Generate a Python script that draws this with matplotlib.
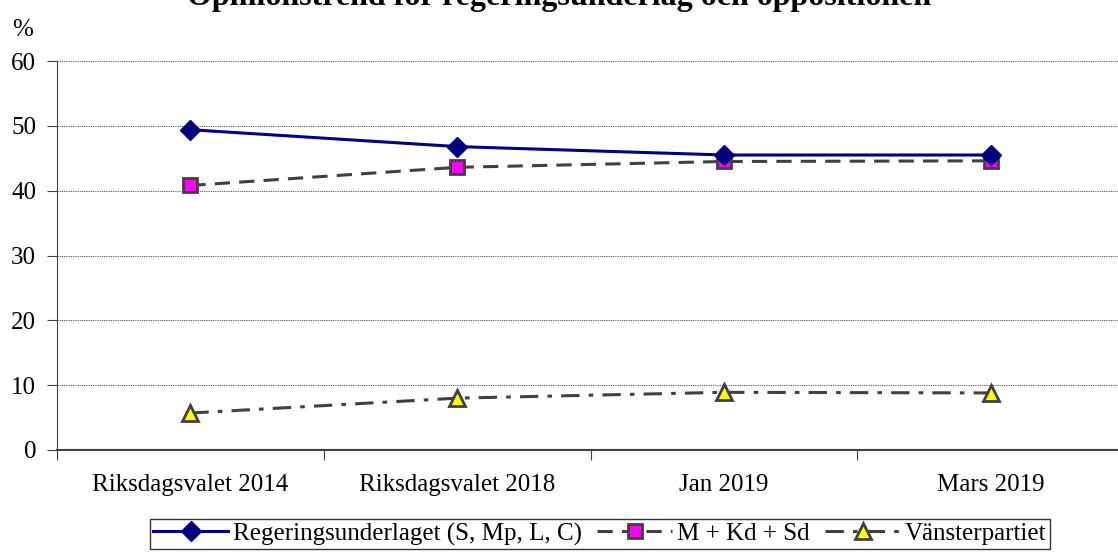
import matplotlib
matplotlib.use("Agg")
import matplotlib.pyplot as plt

categories = ["Riksdagsvalet 2014", "Riksdagsvalet 2018", "Jan 2019", "Mars 2019"]
regering = [49.4, 46.8, 45.5, 45.5]
opposition = [40.8, 43.6, 44.5, 44.6]
vanster = [5.7, 8.0, 8.9, 8.8]
labels = ["Regeringsunderlaget (S, Mp, L, C)", "M + Kd + Sd", "Vänsterpartiet"]
yticks = [0, 10, 20, 30, 40, 50, 60]

plt.rcParams['font.family'] = ['Liberation Serif', 'DejaVu Serif']
W, H = 1118, 554
fig = plt.figure(figsize=(W/100, H/100), dpi=100)
ax = fig.add_axes([57/W, 1-450/H, 1067/W, (450-61)/H])

x = list(range(len(categories)))
ax.plot(x, regering, color='#000080', lw=2.2, marker='D', ms=10, mfc='#000080', mec='#000080', label=labels[0], zorder=5)
ax.plot(x, opposition, color='#404040', lw=2.2, ls=(0, (5, 3)), marker='s', ms=10, mfc='#FF00FF', mec='#404040', mew=2, label=labels[1], zorder=4)
ax.plot(x, vanster, color='#404040', lw=2.2, ls=(0, (6, 3, 1.5, 3)), marker='^', ms=11, mfc='#FFFF00', mec='#404040', mew=2, label=labels[2], zorder=4)

ax.set_xlim(-0.5, 3.5)
ax.set_ylim(0, 60)
ax.set_yticks(yticks)
ax.set_xticks([-0.5, 0.5, 1.5, 2.5, 3.5])
ax.set_xticklabels([])
ax.set_xticks(x, minor=True)
ax.set_xticklabels(categories, minor=True)
ax.tick_params(axis='x', which='minor', length=0, pad=17, labelsize=18)
ax.tick_params(axis='x', which='major', length=7, direction='out', color='#404040')
ax.tick_params(axis='y', length=7, direction='out', labelsize=18, pad=8, color='#404040')
ax.grid(axis='y', ls=(0, (1, 1)), color='#555555', lw=0.8)
for s in ['top', 'right']:
    ax.spines[s].set_visible(False)
ax.spines['left'].set_color('#404040')
ax.spines['bottom'].set_color('#404040')
ax.spines['bottom'].set_linewidth(1.5)

fig.text(0.5, 1 + 2/H, "Opinionstrend för regeringsunderlag och oppositionen", ha='center', va='center', fontsize=23, fontweight='bold')
fig.text(12/W, 1-30/H, "%", fontsize=18, va='center', ha='left')

leg = fig.legend(loc='center', bbox_to_anchor=(600/W, 1-534/H), ncol=3, frameon=True, fancybox=False, edgecolor='black', fontsize=18, handlelength=3.0, handletextpad=0.2, columnspacing=0.6, borderpad=0.15)
leg.get_frame().set_linewidth(1.0)

fig.savefig("out.png", dpi=100)
